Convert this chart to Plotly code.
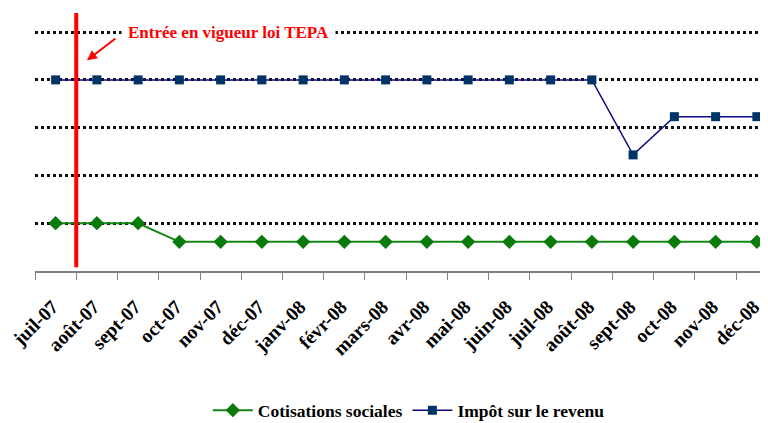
import plotly.graph_objects as go

months = ["juil-07", "août-07", "sept-07", "oct-07", "nov-07", "déc-07",
          "janv-08", "févr-08", "mars-08", "avr-08", "mai-08", "juin-08",
          "juil-08", "août-08", "sept-08", "oct-08", "nov-08", "déc-08"]
cotisations = [1.0, 1.0, 1.0, 0.61, 0.61, 0.61, 0.61, 0.61, 0.61, 0.61,
               0.61, 0.61, 0.61, 0.61, 0.61, 0.61, 0.61, 0.61]
impot = [4.0, 4.0, 4.0, 4.0, 4.0, 4.0, 4.0, 4.0, 4.0, 4.0,
         4.0, 4.0, 4.0, 4.0, 2.43, 3.23, 3.23, 3.23]
grid_vals = [1, 2, 3, 4, 5]
event_label = "Entrée en vigueur loi TEPA"

FONT = "Liberation Serif"
fig = go.Figure()
fig.add_trace(go.Scatter(
    x=months, y=cotisations, name="Cotisations sociales", mode="lines+markers",
    line=dict(color="#158515", width=2),
    marker=dict(symbol="diamond", size=11, color="#0a7a0a")))
fig.add_trace(go.Scatter(
    x=months, y=impot, name="Impôt sur le revenu", mode="lines+markers",
    line=dict(color="#0a0a80", width=1.5),
    marker=dict(symbol="square", size=9, color="#003366")))

fig.add_shape(type="line", xref="x", yref="y", x0=0.5, x1=0.5, y0=0.08, y1=5.4,
              line=dict(color="#ff0000", width=4), layer="above")
fig.add_annotation(x=4.18, y=5.0, xref="x", yref="y", text=event_label,
                   showarrow=False, bgcolor="white", borderpad=6,
                   font=dict(family=FONT, size=17, color="#ff0000", weight="bold"))
fig.add_annotation(x=0.76, y=4.41, xref="x", yref="y", text="", showarrow=True,
                   ax=30, ay=-23, arrowcolor="#ff0000", arrowwidth=2,
                   arrowhead=2, arrowsize=1)

fig.update_layout(
    width=760, height=415, paper_bgcolor="white", plot_bgcolor="white",
    margin=dict(l=27, r=0, t=5, b=152, autoexpand=False),
    font=dict(family=FONT, size=16, color="black"),
    showlegend=True,
    legend=dict(orientation="h", x=0.51, xanchor="center", y=-0.54, yanchor="middle",
                font=dict(family=FONT, size=17.5, color="black", weight="bold"),
                itemwidth=40),
)
fig.update_xaxes(type="category", range=[-0.5, 17.27], showgrid=False, automargin=False,
                 showline=True, linecolor="#808080", linewidth=1.5,
                 ticks="outside", tickson="boundaries", ticklen=7, tickcolor="#808080",
                 tickangle=-45, ticklabelstandoff=15, ticklabelshift=-3,
                 tickfont=dict(family=FONT, size=19.5, color="black", weight="bold"))
fig.update_yaxes(range=[0, 5.4], tickvals=grid_vals, showticklabels=False, automargin=False,
                 showgrid=True, gridcolor="#111111", griddash="dot", gridwidth=2.5,
                 zeroline=False, showline=False)

fig.write_html("out.html")
